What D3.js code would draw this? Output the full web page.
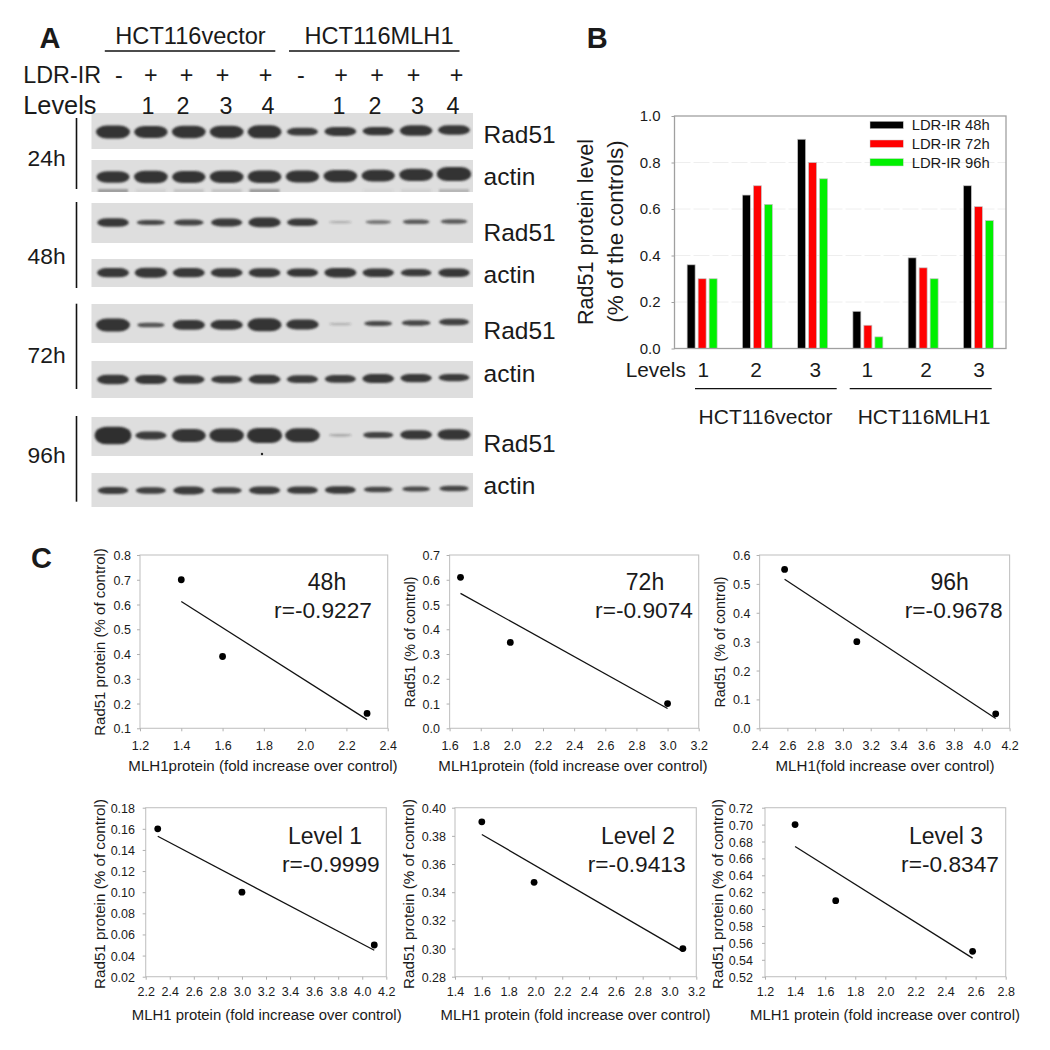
<!DOCTYPE html>
<html><head><meta charset="utf-8">
<script src="https://cdn.jsdelivr.net/npm/d3@7"></script>
<style>
html,body{margin:0;padding:0;background:#fff}
svg{display:block}
text{font-family:"Liberation Sans",Arial,sans-serif;fill:#1a1a1a}
</style></head><body><svg id="c" width="1050" height="1050"></svg>
<script>
// ---------- Panel A data (relative band density per lane) ----------
const laneTreatment = ["-","+","+","+","+","-","+","+","+","+"];
const laneLevels = ["","1","2","3","4","","1","2","3","4"];
const cellLines = ["HCT116vector","HCT116MLH1"];
const rad51_24h = [1,.92,.95,.95,1,.55,.65,.58,.78,.68];
const actin_24h = [.85,.95,.9,.95,.95,.9,.95,.9,.95,1.1];
const ghost_24h = [.5,.1,.2,.2,.5,0,0,.05,.1,.3];
const rad51_48h = [.62,.32,.38,.55,.72,.52,.07,.2,.26,.26];
const actin_48h = [.68,.75,.68,.65,.65,.58,.7,.6,.5,.6];
const rad51_72h = [1,.28,.72,.72,1,.75,.06,.3,.35,.42];
const actin_72h = [.68,.66,.6,.52,.65,.55,.55,.65,.6,.5];
const rad51_96h = [1.45,.55,1,1.08,1.2,1.1,.08,.4,.66,.8];
const actin_96h = [.48,.42,.55,.42,.55,.5,.52,.35,.3,.36];
// ---------- Panel B data ----------
const barGroups = ["v1","v2","v3","m1","m2","m3"];
const barSeries = ["LDR-IR 48h","LDR-IR 72h","LDR-IR 96h"];
const values48h = [.36,.66,.90,.16,.39,.70];
const values72h = [.30,.70,.80,.10,.347,.61];
const values96h = [.30,.62,.73,.05,.30,.55];
const barLevels = ["1","2","3","1","2","3"];
const barColors = ["#000000","#ff0000","#00f000"];
// ---------- Panel C data ----------
const x48h = [1.4,1.6,2.3],   y48h = [.70,.39,.16],   fit48h = [.612,.135];
const x72h = [1.67,1.99,3.0], y72h = [.61,.347,.10],  fit72h = [.545,.08];
const x96h = [2.58,3.1,4.1],  y96h = [.55,.30,.05],   fit96h = [.516,.034];
const xL1 = [2.3,3.0,4.1],    yL1 = [.16,.10,.05],    fitL1 = [.153,.045];
const xL2 = [1.6,1.99,3.1],   yL2 = [.39,.347,.30],   fitL2 = [.381,.298];
const xL3 = [1.4,1.67,2.58],  yL3 = [.70,.61,.55],    fitL3 = [.674,.542];

const svg = d3.select("#c");
const defs = svg.append("defs");
defs.append("filter").attr("id","blurBand").attr("x","-20%").attr("y","-60%").attr("width","140%").attr("height","220%")
  .append("feGaussianBlur").attr("stdDeviation",1.2);
defs.append("filter").attr("id","blurEdge").attr("x","-2%").attr("y","-5%").attr("width","104%").attr("height","110%")
  .append("feGaussianBlur").attr("stdDeviation",.5);

function label(g,x,y,s,size,anchor,weight){
  return g.append("text").attr("x",x).attr("y",y).attr("font-size",size)
    .attr("text-anchor",anchor||"start").attr("font-weight",weight||"normal").text(s);
}
function vlabel(g,x,y,s,size,fill){
  return g.append("text").attr("transform",`translate(${x},${y}) rotate(-90)`).attr("font-size",size)
    .attr("text-anchor","middle").attr("fill",fill||null).text(s);
}

// ========== A ==========
const A = svg.append("g");
const laneX = d3.scalePoint().domain(d3.range(10)).range([113,454]);
const bandW = d3.scaleLinear().domain([0,.4,1,1.5]).range([21,30,34,37]);
const bandH = d3.scaleLinear().domain([0,1,1.5]).range([1.5,13,18]);
const bandO = d3.scaleLinear().domain([0,.3,.6,1.5]).range([.12,.85,.95,1]).clamp(true);
const blotRows = [
 {d:rad51_24h,t:113,b:149,c:132,drift:-2,lab:"Rad51",ly:142.7},
 {d:actin_24h,t:160,b:192,c:177,drift:-3,lab:"actin",ly:185,ghost:ghost_24h},
 {d:rad51_48h,t:203,b:243,c:222.5,drift:-1,lab:"Rad51",ly:240.7},
 {d:actin_48h,t:259,b:287,c:272.7,drift:0,lab:"actin",ly:282.7},
 {d:rad51_72h,t:304,b:343,c:325,drift:-3,lab:"Rad51",ly:339.3},
 {d:actin_72h,t:361,b:398,c:379.5,drift:-2,lab:"actin",ly:381.7},
 {d:rad51_96h,t:417,b:456,c:435.5,drift:-1,lab:"Rad51",ly:451.7},
 {d:actin_96h,t:473,b:507,c:490.5,drift:-2,lab:"actin",ly:494.3}
];
blotRows.forEach((r,i)=>{
  defs.append("clipPath").attr("id","clip"+i).append("rect").attr("x",91.5).attr("y",r.t).attr("width",381.5).attr("height",r.b-r.t);
  A.append("rect").attr("x",91.5).attr("y",r.t).attr("width",381.5).attr("height",r.b-r.t)
    .attr("fill","#dedede").attr("filter","url(#blurEdge)");
  const g = A.append("g").attr("clip-path",`url(#clip${i})`).append("g").attr("filter","url(#blurBand)");
  g.selectAll("rect.b").data(r.d).join("rect").attr("class","b")
    .attr("x",(d,k)=>laneX(k)-bandW(d)/2).attr("width",d=>bandW(d))
    .attr("y",(d,k)=>r.c+r.drift*Math.pow(k/9,3)-bandH(d)/2).attr("height",d=>bandH(d))
    .attr("rx",d=>bandW(d)/3.2).attr("ry",d=>bandH(d)/2)
    .attr("fill","#2e2e2e").attr("fill-opacity",d=>bandO(d));
  if(r.ghost){
    g.selectAll("rect.g").data(r.ghost).join("rect").attr("class","g")
     .attr("x",(d,k)=>laneX(k)-15).attr("width",30).attr("y",189).attr("height",4)
     .attr("fill","#555").attr("fill-opacity",d=>d);
  }
  label(A,483.5,r.ly,r.lab,24.5);
});
A.append("circle").attr("cx",262).attr("cy",454).attr("r",1.2).attr("fill","#222");

label(A,39.5,48,"A",29,"start","bold");
label(A,190.5,44,cellLines[0],23.6,"middle");
label(A,379,44,cellLines[1],23.6,"middle");
[[104.8,275.3],[289,459.5]].forEach(s=>A.append("line").attr("x1",s[0]).attr("x2",s[1]).attr("y1",51).attr("y2",51).attr("stroke","#111").attr("stroke-width",1.4));
label(A,23.3,83.3,"LDR-IR",23.3);
label(A,23.3,114,"Levels",25.3);
const treatX = [119,150.8,186.6,222.5,265.6,301,341,377,413.5,456.6];
const levelX = [0,148,183,226,268,0,339,375,417.5,453];
laneTreatment.forEach((s,i)=>label(A,treatX[i],83.3,s,23.3,"middle"));
laneLevels.forEach((s,i)=>{ if(s) label(A,levelX[i],114,s,23.3,"middle"); });
[["24h",166,118,189],["48h",263.5,202,288],["72h",363,303.7,389],["96h",463,416,501.7]].forEach(t=>{
  label(A,27.6,t[1],t[0],22.8);
  A.append("line").attr("x1",76.5).attr("x2",76.5).attr("y1",t[2]).attr("y2",t[3]).attr("stroke","#111").attr("stroke-width",1.6);
});

// ========== B ==========
const B = svg.append("g");
label(B,586.7,48.3,"B",29,"start","bold");
const bx = d3.scaleBand().domain(barGroups).range([674.5,1006]);
const by = d3.scaleLinear().domain([0,1]).range([348.5,116]);
const sub = d3.scalePoint().domain(barSeries).range([-11,11]);
[.2,.4,.6,.8].forEach(v=>B.append("line").attr("x1",674.5).attr("x2",1006).attr("y1",by(v)).attr("y2",by(v))
   .attr("stroke","#eeeeee").attr("stroke-width",1).attr("stroke-dasharray","16 3"));
[values48h,values72h,values96h].forEach((vals,s)=>{
  B.selectAll("rect.s"+s).data(vals).join("rect").attr("class","s"+s)
   .attr("x",(d,i)=>bx(barGroups[i])+bx.bandwidth()/2+sub(barSeries[s])-4)
   .attr("width",8).attr("y",d=>by(d)).attr("height",d=>by(0)-by(d))
   .attr("fill",barColors[s]).attr("stroke","#c4c4c4").attr("stroke-width",.7);
});
B.append("rect").attr("x",674.5).attr("y",116).attr("width",331.5).attr("height",232.5)
  .attr("fill","none").attr("stroke","#a0a0a0").attr("stroke-width",1.3);
const bAxis = B.append("g").attr("transform","translate(674.5,0)")
  .call(d3.axisLeft(by).tickValues([0,.2,.4,.6,.8,1]).tickFormat(d3.format(".1f")).tickSize(3).tickPadding(11));
bAxis.select(".domain").remove();
bAxis.selectAll("line").attr("stroke","#a0a0a0");
bAxis.selectAll("text").attr("font-size",15).style("font-family",'"Liberation Sans",sans-serif').attr("fill","#1a1a1a");
barSeries.forEach((s,i)=>{
  const y=[125,143.7,162.3][i];
  B.append("rect").attr("x",870).attr("y",y-3.7).attr("width",33.3).attr("height",7.4).attr("fill",barColors[i]).attr("stroke","#d0d0d0").attr("stroke-width",.5);
  label(B,911.7,y+5.3,s,14.8);
});
vlabel(B,593,232,"Rad51  protein level",21.6);
vlabel(B,623,231.5,"(% of the controls)",22.5);
label(B,625.7,376.7,"Levels",20.8);
const barLevelX=[703.3,756,815.3,867.3,926,979];
barLevels.forEach((s,i)=>label(B,barLevelX[i],376.7,s,20.8,"middle"));
[[695,836.7],[849.7,991.7]].forEach(s=>B.append("line").attr("x1",s[0]).attr("x2",s[1]).attr("y1",388.7).attr("y2",388.7).attr("stroke","#111").attr("stroke-width",1.3));
label(B,765.5,424,cellLines[0],21,"middle");
label(B,924,424,cellLines[1],21,"middle");

// ========== C ==========
const C = svg.append("g");
label(C,31,568,"C",29,"start","bold");
const panels = [
 {xs:x48h,ys:y48h,fit:fit48h,xd:[1.2,2.4],yd:[.1,.8],xt:d3.range(1.2,2.41,.2),yt:d3.range(.1,.81,.1),f:".1f",
  box:[140,387.7,555,728.3],tickR:131,yTitle:"Rad51 protein  (% of control)",yx:105,yc:642,yfs:15,xTitle:"MLH1protein (fold increase over control)",xc:263,xb:770.7,xfs:15.1,lb:750,lfs:12.5,
  a1:"48h",a1x:327,a1y:590,a2:"r=-0.9227",a2x:323,a2y:618.3},
 {xs:x72h,ys:y72h,fit:fit72h,xd:[1.6,3.2],yd:[0,.7],xt:d3.range(1.6,3.21,.2),yt:d3.range(0,.71,.1),f:".1f",
  box:[449.6,698.7,555,728.3],tickR:440,yTitle:"Rad51 (% of control)",yx:415,yc:642,yfs:14.3,xTitle:"MLH1protein (fold increase over control)",xc:573,xb:770.7,xfs:15.1,lb:750,lfs:12.5,
  a1:"72h",a1x:645,a1y:590,a2:"r=-0.9074",a2x:644,a2y:618.3},
 {xs:x96h,ys:y96h,fit:fit96h,xd:[2.4,4.2],yd:[0,.6],xt:d3.range(2.4,4.21,.2),yt:d3.range(0,.61,.1),f:".1f",
  box:[759.6,1009.6,555,728.3],tickR:750.4,yTitle:"Rad51 (% of control)",yx:725,yc:642,yfs:14.3,xTitle:"MLH1(fold increase over control)",xc:885,xb:770.7,xfs:15.1,lb:750,lfs:12.5,
  a1:"96h",a1x:949.6,a1y:590,a2:"r=-0.9678",a2x:953.7,a2y:618.3},
 {xs:xL1,ys:yL1,fit:fitL1,xd:[2.2,4.2],yd:[.02,.18],xt:d3.range(2.2,4.21,.2),yt:d3.range(.02,.181,.02),f:".2f",
  box:[145.7,386.3,807.7,976.7],tickR:135,yTitle:"Rad51 protein (% of control)",yx:105,yc:894,yfs:15.2,xTitle:"MLH1 protein (fold increase over control)",xc:266.7,xb:1020,xfs:14.9,lb:996,lfs:12.5,
  a1:"Level 1",a1x:325,a1y:844,a2:"r=-0.9999",a2x:330.8,a2y:871.7},
 {xs:xL2,ys:yL2,fit:fitL2,xd:[1.4,3.2],yd:[.28,.40],xt:d3.range(1.4,3.21,.2),yt:d3.range(.28,.401,.02),f:".2f",
  box:[455,696.3,807.7,976.7],tickR:446,yTitle:"Rad51 protein (% of control)",yx:414,yc:894,yfs:15.2,xTitle:"MLH1 protein (fold increase over control)",xc:575.5,xb:1020,xfs:14.9,lb:996,lfs:12.5,
  a1:"Level 2",a1x:638,a1y:844,a2:"r=-0.9413",a2x:636.7,a2y:871.7},
 {xs:xL3,ys:yL3,fit:fitL3,xd:[1.2,2.8],yd:[.52,.72],xt:d3.range(1.2,2.81,.2),yt:d3.range(.52,.721,.02),f:".2f",
  box:[765,1005.7,807.7,976.7],tickR:753,yTitle:"Rad51 protein (% of control)",yx:723,yc:894,yfs:15.2,xTitle:"MLH1 protein (fold increase over control)",xc:885,xb:1020,xfs:14.9,lb:996,lfs:12.5,
  a1:"Level 3",a1x:946,a1y:844,a2:"r=-0.8347",a2x:950,a2y:871.7}
];
panels.forEach(p=>{
  const [l,r,t,b]=p.box;
  const g=C.append("g");
  const x=d3.scaleLinear().domain(p.xd).range([l,r]);
  const y=d3.scaleLinear().domain(p.yd).range([b,t]);
  g.append("rect").attr("x",l).attr("y",t).attr("width",r-l).attr("height",b-t).attr("fill","none").attr("stroke","#c4c4c4").attr("stroke-width",1.1);
  const ax=g.append("g").attr("transform",`translate(0,${b})`).call(d3.axisBottom(x).tickValues(p.xt).tickFormat(d3.format(".1f")).tickSize(3).tickPadding(0));
  const ay=g.append("g").attr("transform",`translate(${l},0)`).call(d3.axisLeft(y).tickValues(p.yt).tickFormat(d3.format(p.f)).tickSize(3).tickPadding(l-p.tickR-3));
  [ax,ay].forEach(a=>{a.select(".domain").remove();a.selectAll("line").attr("stroke","#b0b0b0");
     a.selectAll("text").attr("font-size",p.lfs).style("font-family",'"Liberation Sans",sans-serif').attr("fill","#222");});
  ax.selectAll("text").attr("dy",null).attr("y",p.lb-b);
  ay.selectAll("text").attr("dy","0.36em");
  g.append("line").attr("x1",x(p.xs[0])).attr("x2",x(p.xs[2])).attr("y1",y(p.fit[0])).attr("y2",y(p.fit[1])).attr("stroke","#111").attr("stroke-width",1.25);
  g.selectAll("circle").data(p.xs).join("circle").attr("cx",d=>x(d)).attr("cy",(d,i)=>y(p.ys[i])).attr("r",3.4).attr("fill","#000");
  vlabel(g,p.yx,p.yc,p.yTitle,p.yfs,"#222");
  label(g,p.xc,p.xb,p.xTitle,p.xfs,"middle");
  label(g,p.a1x,p.a1y,p.a1,23,"middle");
  label(g,p.a2x,p.a2y,p.a2,22.7,"middle");
});
</script></body></html>
